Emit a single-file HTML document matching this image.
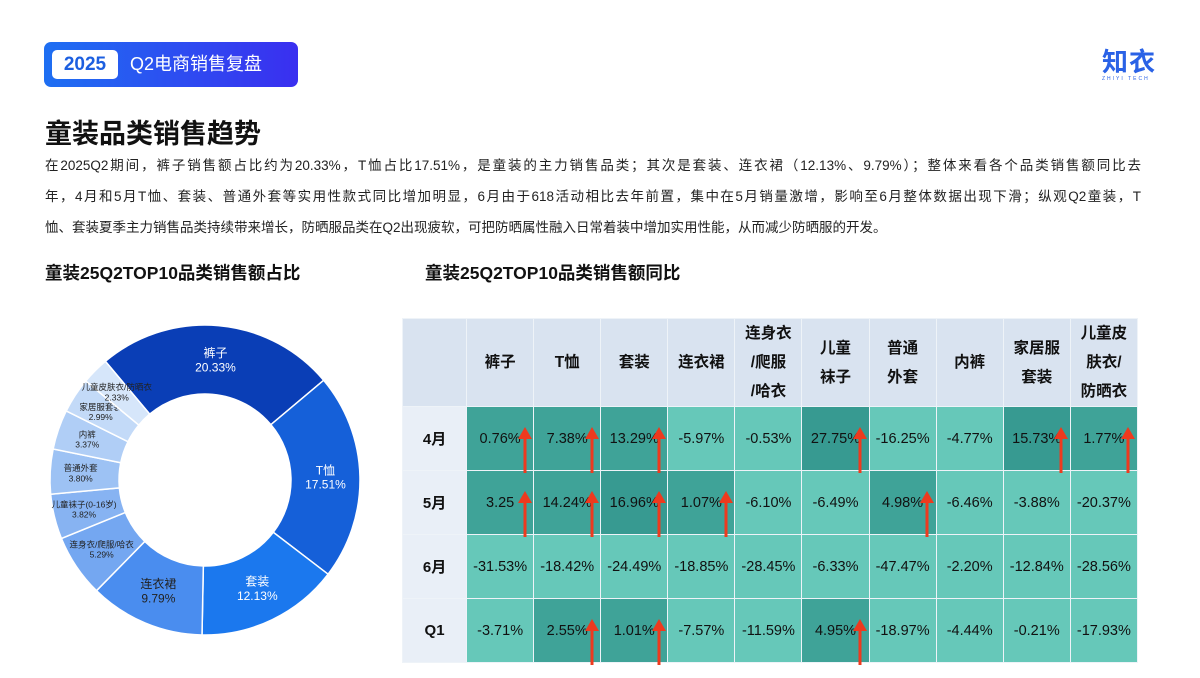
<!DOCTYPE html>
<html><head><meta charset="utf-8">
<style>
body{margin:0;width:1200px;height:678px;overflow:hidden;background:#fff;font-family:"Liberation Sans","Noto Sans CJK SC",sans-serif;position:relative;color:#222}
.abs{position:absolute}
#badge{left:44px;top:42px;width:254px;height:45px;border-radius:7px;background:linear-gradient(90deg,#1e6ff2,#3a2ff0)}
#year{left:8px;top:8px;width:66px;height:29px;background:#fff;border-radius:5px;color:#1c5fe0;font-weight:bold;font-size:19px;line-height:29px;text-align:center}
#sub{left:86px;top:8px;color:#fff;font-size:18px;line-height:29px}
#logo{left:1102px;top:42px;color:#2a62e6;font-size:26px;font-weight:bold;letter-spacing:1px}
#title{left:45px;top:112px;font-size:27px;font-weight:bold;color:#111}
#para{left:45px;top:150px;width:1096px;font-size:13.5px;line-height:31px;color:#222}
#para div{text-align:justify;text-align-last:justify;white-space:nowrap}
#para div.last{text-align-last:left}
.h2{font-size:17.5px;font-weight:bold;color:#111;top:260px}
#tbl{left:402px;top:318px}
table{border-collapse:collapse;table-layout:fixed;width:736px}
td{border:1.5px solid #eef3f8;text-align:center;font-size:14.5px;color:#111;padding:0;overflow:hidden;white-space:nowrap}
</style></head><body>
<div class="abs" id="badge">
 <div class="abs" id="year">2025</div>
 <div class="abs" id="sub">Q2电商销售复盘</div>
</div>
<div class="abs" id="logo">知衣<div style="font-size:5px;letter-spacing:2px;font-weight:normal;margin-top:-3px">ZHIYI TECH</div></div>
<div class="abs" id="title">童装品类销售趋势</div>
<div class="abs" id="para">
<div>在2025Q2期间，裤子销售额占比约为20.33%，T恤占比17.51%，是童装的主力销售品类；其次是套装、连衣裙（12.13%、9.79%）；整体来看各个品类销售额同比去</div>
<div>年，4月和5月T恤、套装、普通外套等实用性款式同比增加明显，6月由于618活动相比去年前置，集中在5月销量激增，影响至6月整体数据出现下滑；纵观Q2童装，T</div>
<div class="last">恤、套装夏季主力销售品类持续带来增长，防晒服品类在Q2出现疲软，可把防晒属性融入日常着装中增加实用性能，从而减少防晒服的开发。</div>
</div>
<div class="abs h2" style="left:45px">童装25Q2TOP10品类销售额占比</div>
<div class="abs h2" style="left:425px">童装25Q2TOP10品类销售额同比</div>
<svg class="abs" id="donut" style="left:0;top:300px" width="400" height="378"></svg>
<div class="abs" id="tbl"></div>
<svg class="abs" id="arrows" style="left:0;top:0;pointer-events:none" width="1200" height="678"></svg>
<script>
const donutLabels=["裤子","T恤","套装","连衣裙","连身衣/爬服/哈衣","儿童袜子(0-16岁)","普通外套","内裤","家居服套装","儿童皮肤衣/防晒衣"];
const donutValues=[20.33,17.51,12.13,9.79,5.29,3.82,3.80,3.37,2.99,2.33];
const donutColors=["#0a3eb6","#1560d9","#1b78ee","#4a8def","#74a7f1","#87b3f2","#9dc2f4","#b0cef6","#c3daf8","#d6e6fa"];
const colLabels=["裤子","T恤","套装","连衣裙","连身衣<br>/爬服<br>/哈衣","儿童<br>袜子","普通<br>外套","内裤","家居服<br>套装","儿童皮<br>肤衣/<br>防晒衣"];
const rowLabels=["4月","5月","6月","Q1"];
const rowApr=[0.76,7.38,13.29,-5.97,-0.53,27.75,-16.25,-4.77,15.73,1.77];
const rowMay=[3.25,14.24,16.96,1.07,-6.10,-6.49,4.98,-6.46,-3.88,-20.37];
const rowJun=[-31.53,-18.42,-24.49,-18.85,-28.45,-6.33,-47.47,-2.20,-12.84,-28.56];
const rowQ1=[-3.71,2.55,1.01,-7.57,-11.59,4.95,-18.97,-4.44,-0.21,-17.93];
const NS="http://www.w3.org/2000/svg";
const svg=document.getElementById('donut');
const cx=205,cy=180,R=155,r=86;
const total=donutValues.reduce((a,b)=>a+b,0);
let ang=-40;
function pt(a,rad){const t=(a-90)*Math.PI/180;return [cx+rad*Math.cos(t),cy+rad*Math.sin(t)];}
donutValues.forEach((v,i)=>{
 const sweep=v/total*360,a0=ang,a1=ang+sweep;ang=a1;
 const [x0,y0]=pt(a0,R),[x1,y1]=pt(a1,R),[x2,y2]=pt(a1,r),[x3,y3]=pt(a0,r);
 const lg=sweep>180?1:0;
 const p=document.createElementNS(NS,'path');
 p.setAttribute('d',`M${x0},${y0}A${R},${R} 0 ${lg} 1 ${x1},${y1}L${x2},${y2}A${r},${r} 0 ${lg} 0 ${x3},${y3}Z`);
 p.setAttribute('fill',donutColors[i]);p.setAttribute('stroke','#fff');p.setAttribute('stroke-width','1.5');
 
 
 svg.appendChild(p);
 const big=i<4;const mid=(a0+a1)/2;const [lx,ly]=pt(mid,(R+r)/2+(big?0:4));
 const fs=big?12:8.5;const col=i<3?'#fff':'#222';
 [donutLabels[i],v.toFixed(2)+'%'].forEach((s,k)=>{
  const t=document.createElementNS(NS,'text');
  t.setAttribute('x',lx);t.setAttribute('y',ly+(k?fs*0.95:-fs*0.25));
  t.setAttribute('text-anchor','middle');t.setAttribute('font-size',fs);t.setAttribute('fill',col);
  t.textContent=s;
  
  
  svg.appendChild(t);
 });
});
const rows=[rowApr,rowMay,rowJun,rowQ1];
const colW=[64,67,67,67,67,67,67,67,67,67,67];
let h='<table><colgroup>'+colW.map(w=>`<col style="width:${w}px">`).join('')+'</colgroup><tr style="height:84px"><td style="background:#d9e3f0"></td>';
colLabels.forEach((c,i)=>{h+=`<td style="background:#d9e3f0;font-weight:bold;font-size:15.5px;line-height:29px">${c}</td>`;});
h+='</tr>';
rows.forEach((row,ri)=>{
 h+=`<tr style="height:64px"><td style="background:#e9eff7;font-weight:bold;font-size:15px">${rowLabels[ri]}</td>`;
 row.forEach(v=>{
  const bg=v>=15?'#379a91':v>=0?'#3fa398':'#66c8b9';
  const txt=(ri==1&&v==3.25)?'3.25':v.toFixed(2)+'%';
  h+=`<td style="background:${bg}">${txt}</td>`;
 });
 h+='</tr>';
});
h+='</table>';
document.getElementById('tbl').innerHTML=h;
const as=document.getElementById('arrows');
const xEdges=[402+64];colW.slice(1).forEach(w=>xEdges.push(xEdges[xEdges.length-1]+w));
rows.forEach((row,ri)=>{
 if(ri==2)return;
 row.forEach((v,ci)=>{
  if(v<0)return;
  const x=xEdges[ci+1]-8,y0=402+ri*64+25;
  const g=document.createElementNS(NS,'g');
  
  
  g.innerHTML=`<line x1="${x}" y1="${y0+10}" x2="${x}" y2="${y0+46}" stroke="#ee3a1e" stroke-width="3"/><polygon points="${x-7},${y0+12} ${x+7},${y0+12} ${x},${y0}" fill="#ee3a1e"/>`;
  as.appendChild(g);
 });
});
</script>
</body></html>
